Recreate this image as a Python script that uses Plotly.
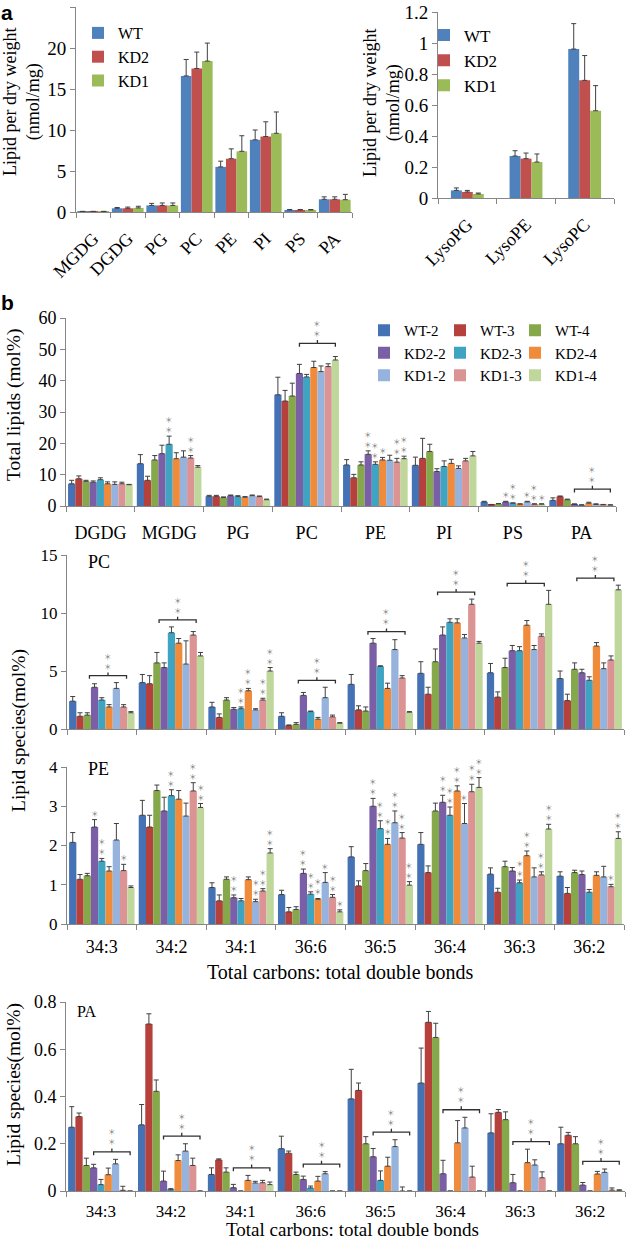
import plotly.graph_objects as go

# ---------------- data ----------------
a_lipids = ["MGDG", "DGDG", "PG", "PC", "PE", "PI", "PS", "PA"]
a_groups = ["WT", "KD2", "KD1"]
a_mean = [
    [0.05, 0.45, 0.8, 16.6, 5.5, 8.8, 0.25, 1.55],
    [0.05, 0.45, 0.8, 17.5, 6.5, 9.2, 0.25, 1.55],
    [0.05, 0.5, 0.8, 18.4, 7.4, 9.6, 0.25, 1.5],
]
a_err = [
    [0.03, 0.1, 0.25, 2.0, 0.7, 1.2, 0.05, 0.3],
    [0.03, 0.15, 0.3, 2.0, 1.2, 1.8, 0.05, 0.3],
    [0.03, 0.2, 0.3, 2.2, 1.9, 2.6, 0.05, 0.65],
]
lyso_lipids = ["LysoPG", "LysoPE", "LysoPC"]
lyso_mean = [[0.049, 0.271, 0.961], [0.039, 0.254, 0.759], [0.026, 0.232, 0.563]]
lyso_err = [[0.016, 0.034, 0.164], [0.010, 0.036, 0.160], [0.006, 0.052, 0.162]]

lines = ["WT-2", "WT-3", "WT-4", "KD2-2", "KD2-3", "KD2-4", "KD1-2", "KD1-3", "KD1-4"]
tot_classes = ["DGDG", "MGDG", "PG", "PC", "PE", "PI", "PS", "PA"]
tot_mean = [
    [7.1, 13.5, 3.1, 35.5, 13.1, 13.0, 1.3, 1.8],
    [8.7, 8.2, 3.1, 33.5, 9.0, 15.2, 0.4, 3.0],
    [7.9, 14.7, 2.7, 35.1, 13.1, 17.4, 0.7, 2.0],
    [7.6, 16.7, 3.3, 42.3, 16.5, 11.0, 1.3, 0.5],
    [8.4, 19.7, 3.0, 41.2, 13.3, 12.6, 0.9, 0.3],
    [7.1, 15.1, 2.8, 44.2, 14.7, 13.6, 0.6, 0.9],
    [6.9, 15.6, 3.3, 42.9, 14.6, 12.0, 1.3, 0.5],
    [7.1, 15.3, 3.0, 44.5, 14.0, 14.4, 0.6, 0.4],
    [6.8, 12.4, 2.0, 46.6, 15.1, 16.0, 0.6, 0.3],
]
tot_err = [
    [1.1, 2.9, 0.3, 5.6, 1.7, 2.6, 0.2, 0.8],
    [0.9, 1.3, 0.3, 3.4, 1.1, 6.4, 0.1, 0.2],
    [0.3, 1.4, 0.2, 4.1, 1.0, 2.3, 0.1, 0.2],
    [0.4, 2.7, 0.2, 2.9, 1.1, 0.9, 0.2, 0.2],
    [0.6, 2.6, 0.3, 0.8, 0.8, 1.8, 0.1, 0.1],
    [0.6, 1.9, 0.2, 2.0, 0.8, 1.3, 0.1, 0.3],
    [0.8, 2.0, 0.2, 1.8, 1.6, 0.8, 0.2, 0.2],
    [0.5, 0.8, 0.2, 0.9, 1.2, 0.8, 0.1, 0.1],
    [0.1, 0.5, 0.2, 1.1, 0.8, 1.4, 0.1, 0.1],
]
species = ["34:3", "34:2", "34:1", "36:6", "36:5", "36:4", "36:3", "36:2"]
pc_mean = [
    [2.4, 4.0, 1.9, 1.1, 3.85, 4.8, 4.85, 4.35],
    [1.1, 3.9, 1.0, 0.3, 1.65, 3.0, 2.75, 2.45],
    [1.2, 5.7, 2.5, 0.4, 1.55, 5.8, 5.3, 5.15],
    [3.6, 5.3, 1.7, 2.9, 7.4, 8.1, 6.75, 4.85],
    [2.5, 8.3, 1.75, 1.5, 5.4, 9.2, 6.75, 4.2],
    [1.9, 7.4, 3.3, 0.85, 3.5, 9.15, 8.95, 7.15],
    [3.5, 5.6, 1.65, 2.7, 6.85, 7.85, 6.85, 5.2],
    [1.9, 8.1, 2.5, 1.05, 4.4, 10.75, 8.0, 5.95],
    [1.4, 6.3, 5.0, 0.5, 1.45, 7.4, 10.75, 12.0],
]
pc_err = [
    [0.4, 0.7, 0.4, 0.3, 0.85, 1.0, 0.8, 0.65],
    [0.3, 0.7, 0.3, 0.05, 0.35, 0.6, 0.45, 0.55],
    [0.2, 0.9, 0.2, 0.15, 0.35, 1.1, 0.8, 0.55],
    [0.3, 0.4, 0.15, 0.25, 0.4, 0.7, 0.45, 0.3],
    [0.2, 0.5, 0.15, 0.05, 0.05, 0.3, 0.35, 0.3],
    [0.2, 0.4, 0.2, 0.15, 0.45, 0.35, 0.4, 0.3],
    [0.5, 2.0, 0.1, 0.9, 0.85, 0.3, 0.35, 0.5],
    [0.2, 0.3, 0.15, 0.15, 0.2, 0.45, 0.2, 0.35],
    [0.1, 0.3, 0.3, 0.05, 0.05, 0.15, 1.2, 0.4],
]
pe_mean = [
    [2.08, 2.77, 0.93, 0.75, 1.71, 2.03, 1.27, 1.22],
    [1.14, 2.47, 0.59, 0.31, 0.97, 1.31, 0.81, 0.78],
    [1.23, 3.40, 1.14, 0.37, 1.36, 2.88, 1.46, 1.31],
    [2.47, 2.88, 0.67, 1.29, 3.00, 3.10, 1.35, 1.26],
    [1.60, 3.27, 0.59, 0.76, 2.43, 2.77, 1.05, 0.81],
    [1.35, 3.18, 1.13, 0.63, 2.03, 3.39, 1.74, 1.24],
    [2.14, 2.75, 0.57, 1.06, 2.58, 2.56, 1.20, 1.20],
    [1.36, 3.39, 0.84, 0.68, 2.19, 3.37, 1.25, 0.95],
    [0.93, 2.97, 1.81, 0.31, 0.99, 3.48, 2.42, 2.18],
]
pe_err = [
    [0.25, 0.38, 0.12, 0.11, 0.26, 0.30, 0.16, 0.11],
    [0.12, 0.30, 0.15, 0.11, 0.13, 0.17, 0.10, 0.15],
    [0.06, 0.14, 0.06, 0.07, 0.18, 0.20, 0.14, 0.06],
    [0.19, 0.35, 0.07, 0.11, 0.20, 0.18, 0.09, 0.09],
    [0.07, 0.15, 0.06, 0.06, 0.20, 0.21, 0.07, 0.07],
    [0.11, 0.22, 0.07, 0.02, 0.15, 0.13, 0.12, 0.09],
    [0.42, 0.33, 0.06, 0.25, 0.30, 0.51, 0.23, 0.27],
    [0.16, 0.21, 0.06, 0.07, 0.14, 0.19, 0.08, 0.06],
    [0.04, 0.10, 0.11, 0.05, 0.09, 0.25, 0.12, 0.17],
]
pa_mean = [
    [0.270, 0.280, 0.070, 0.179, 0.390, 0.457, 0.246, 0.200],
    [0.315, 0.707, 0.132, 0.160, 0.426, 0.714, 0.333, 0.236],
    [0.108, 0.422, 0.080, 0.070, 0.200, 0.650, 0.302, 0.200],
    [0.098, 0.042, 0.014, 0.049, 0.145, 0.073, 0.035, 0.025],
    [0.027, 0.005, 0.0, 0.013, 0.045, 0.0, 0.0, 0.0],
    [0.069, 0.129, 0.045, 0.042, 0.105, 0.204, 0.120, 0.072],
    [0.115, 0.169, 0.034, 0.073, 0.188, 0.267, 0.110, 0.079],
    [0.003, 0.108, 0.035, 0.0, 0.0, 0.059, 0.056, 0.004],
    [0.0, 0.0, 0.027, 0.0, 0.0, 0.0, 0.0, 0.003],
]
pa_err = [
    [0.087, 0.086, 0.028, 0.053, 0.125, 0.148, 0.081, 0.070],
    [0.015, 0.043, 0.004, 0.009, 0.031, 0.046, 0.012, 0.012],
    [0.031, 0.048, 0.018, 0.010, 0.030, 0.060, 0.033, 0.030],
    [0.015, 0.042, 0.014, 0.014, 0.035, 0.057, 0.035, 0.011],
    [0.022, 0.005, 0.0, 0.008, 0.040, 0.0, 0.0, 0.0],
    [0.028, 0.024, 0.021, 0.020, 0.038, 0.094, 0.057, 0.011],
    [0.019, 0.031, 0.007, 0.009, 0.029, 0.045, 0.022, 0.014],
    [0.017, 0.031, 0.010, 0.0, 0.017, 0.046, 0.025, 0.009],
    [0.0, 0.0, 0.011, 0.0, 0.0, 0.0, 0.0, 0.002],
]
# significance marks: (category index, line index, number of asterisks)
tot_stars = [(1, 4, 2), (1, 7, 2), (4, 3, 2), (4, 4, 2), (4, 5, 1), (4, 7, 2), (4, 8, 2),
             (6, 3, 1), (6, 4, 2), (6, 6, 1), (6, 7, 2), (6, 8, 1)]
tot_brackets = [3, 7]
pc_stars = [(2, 4, 2), (2, 5, 2), (2, 7, 2), (2, 8, 2)]
pc_brackets = [0, 1, 3, 4, 5, 6, 7]
pe_stars = [(0, 3, 1), (0, 4, 2), (0, 7, 1),
            (1, 4, 2), (1, 7, 2), (1, 8, 2),
            (2, 3, 2), (2, 6, 2), (2, 7, 2), (2, 8, 2),
            (3, 3, 2), (3, 4, 2), (3, 5, 2), (3, 6, 1), (3, 7, 2), (3, 8, 1),
            (4, 3, 2), (4, 4, 2), (4, 5, 2), (4, 6, 2), (4, 7, 2), (4, 8, 2),
            (5, 3, 2), (5, 4, 2), (5, 5, 2), (5, 6, 1), (5, 7, 2), (5, 8, 2),
            (6, 4, 2), (6, 5, 2), (6, 7, 2), (6, 8, 2),
            (7, 7, 1), (7, 8, 2)]
pa_brackets = [0, 1, 2, 3, 4, 5, 6, 7]

# ---------------- style ----------------
W, H = 630, 1240
SERIF = "Liberation Serif, Times New Roman, serif"
SANS = "Liberation Sans, Arial, sans-serif"
STARFONT = "Noto Sans CJK JP"
AX = "#868686"
ERR = "#404040"
STAR = "#707070"
a_colors = ["#4F81BD", "#C0504D", "#9BBB59"]
b_colors = ["#4472b5", "#b5403c", "#84a84a", "#7a5ea6", "#3fa4c2",
            "#ef8b3a", "#95b3dc", "#db9493", "#c0d79c"]


def px(x):
    return x / W


def py(y):
    return 1 - y / H


fig = go.Figure()


def add_bars(cats, means, errs, names, colors, axn, fill, legends=None):
    n = len(means)
    w = fill / n
    xa = "x" if axn == 1 else "x%d" % axn
    ya = "y" if axn == 1 else "y%d" % axn
    for i in range(n):
        kw = {}
        if legends:
            kw["legend"] = legends[i]
            kw["showlegend"] = True
        else:
            kw["showlegend"] = False
        fig.add_trace(go.Bar(
            x=cats, y=means[i], name=names[i], width=w, offset=-fill / 2 + i * w,
            marker=dict(color=colors[i], line=dict(width=0)),
            error_y=dict(type="data", array=errs[i], arrayminus=[0] * len(cats),
                         symmetric=False, color=ERR, thickness=1, width=2.5),
            xaxis=xa, yaxis=ya, **kw))
    return w


FILL_A = 0.92
FILL_L = 0.56
FILL_B = 0.94
add_bars(a_lipids, a_mean, a_err, a_groups, a_colors, 1, FILL_A, ["legend"] * 3)
add_bars(lyso_lipids, lyso_mean, lyso_err, a_groups, a_colors, 2, FILL_L, ["legend2"] * 3)
add_bars(tot_classes, tot_mean, tot_err, lines, b_colors, 3, FILL_B,
         ["legend3", "legend4", "legend5"] * 3)
add_bars(species, pc_mean, pc_err, lines, b_colors, 4, FILL_B)
add_bars(species, pe_mean, pe_err, lines, b_colors, 5, FILL_B)
add_bars(species, pa_mean, pa_err, lines, b_colors, 6, FILL_B)

annotations = []
shapes = []


def bar_center(c, i, n=9, fill=FILL_B):
    w = fill / n
    return c - fill / 2 + (i + 0.5) * w


def star_text(axn, x, y, k):
    annotations.append(dict(
        x=x, y=y, xref="x%d" % axn, yref="y%d" % axn,
        text="<br>".join(["\uff0a"] * k), showarrow=False,
        yanchor="bottom", xanchor="center", borderpad=0, yshift=0,
        font=dict(family=STARFONT, size=7.5, color=STAR)))


def add_stars(axn, stars, means, errs):
    for (c, i, k) in stars:
        star_text(axn, bar_center(c, i), means[i][c] + errs[i][c], k)


def add_brackets(axn, cats, means, errs, lo, hi, ymax, pad_frac=0.04):
    d = ymax * 0.018
    for c in cats:
        tops = [means[i][c] + errs[i][c] for i in range(int(lo), min(9, int(hi + 0.999) + 1))]
        yb = max(tops) + ymax * pad_frac
        x0 = bar_center(c, lo)
        x1 = bar_center(c, hi)
        xc = (x0 + x1) / 2
        shapes.append(dict(
            type="path", xref="x%d" % axn, yref="y%d" % axn,
            path="M %f,%f L %f,%f L %f,%f L %f,%f M %f,%f L %f,%f" % (
                x0, yb - d, x0, yb, x1, yb, x1, yb - d, xc, yb, xc, yb + d),
            line=dict(color="#303030", width=1.3)))
        star_text(axn, xc, yb + d, 2)


add_stars(3, tot_stars, tot_mean, tot_err)
add_brackets(3, tot_brackets, tot_mean, tot_err, 3, 8, 60, 0.07)
add_stars(4, pc_stars, pc_mean, pc_err)
add_brackets(4, pc_brackets, pc_mean, pc_err, 2.3, 7.4, 15, 0.04)
add_stars(5, pe_stars, pe_mean, pe_err)
add_brackets(6, pa_brackets, pa_mean, pa_err, 3, 8, 0.8, 0.04)


def text(x, y, t, size, angle=0, family=SERIF, xanchor="center", yanchor="middle"):
    annotations.append(dict(x=px(x), y=py(y), xref="paper", yref="paper", text=t,
                            showarrow=False, textangle=angle, xanchor=xanchor, yanchor=yanchor,
                            borderpad=0,
                            font=dict(family=family, size=size, color="black")))


text(0, 0, "<b>a</b>", 21, family=SANS, xanchor="left", yanchor="top")
text(0, 290, "<b>b</b>", 21, family=SANS, xanchor="left", yanchor="top")
text(22, 102, "Lipid per dry weight<br>(nmol/mg)", 18, angle=-90)
text(382, 103, "Lipid per dry weight<br>(nmol/mg)", 18, angle=-90)
text(14, 405, "Total lipids (mol%)", 19.5, angle=-90)
text(19, 731, "Lipid species(mol%)", 19.5, angle=-90)
text(14, 1085, "Lipid species(mol%)", 19.5, angle=-90)
text(87, 562, "PC", 18, xanchor="left")
text(87, 769, "PE", 18, xanchor="left")
text(76, 1011, "PA", 16, xanchor="left")
text(340, 972, "Total carbons: total double bonds", 20)
text(352, 1229.5, "Total carbons: total double bonds", 19)


def yax(dom, rng, dtick, size, xa):
    return dict(domain=[py(dom[1]), py(dom[0])], range=rng, dtick=dtick, tick0=0,
                showline=True, linecolor=AX, linewidth=1, ticks="outside", ticklen=5,
                tickcolor=AX, showgrid=False, zeroline=False, anchor=xa, automargin=False,
                tickfont=dict(family=SERIF, size=size, color="black"))


def xax(dom, n, ya, size, show=True, angle=0, standoff=6):
    return dict(domain=[px(dom[0]), px(dom[1])], range=[-0.5, n - 0.5], type="category",
                showline=True, linecolor=AX, linewidth=1, ticks="outside", ticklen=5,
                tickcolor=AX, tickson="boundaries", showgrid=False, zeroline=False,
                anchor=ya, showticklabels=show, tickangle=angle, ticklabelstandoff=standoff,
                automargin=False,
                tickfont=dict(family=SERIF, size=size, color="black"))


def legend(x, y, size, gap=0):
    return dict(x=px(x), y=py(y), xanchor="left", yanchor="top", bgcolor="rgba(0,0,0,0)",
                font=dict(family=SERIF, size=size, color="black"), tracegroupgap=gap,
                itemclick=False)


fig.update_layout(
    width=W, height=H, margin=dict(l=0, r=0, t=0, b=0, pad=0, autoexpand=False),
    paper_bgcolor="white", plot_bgcolor="white",
    font=dict(family=SERIF, color="black"),
    barmode="overlay",
    xaxis=xax((76, 352), 8, "y", 18, angle=-45, standoff=8),
    yaxis=yax((7, 212), [0, 25], 5, 19, "x"),
    xaxis2=xax((438, 614), 3, "y2", 18, angle=-45, standoff=8),
    yaxis2=yax((12, 198), [0, 1.2], 0.2, 19, "x2"),
    xaxis3=xax((66, 616), 8, "y3", 18, standoff=10),
    yaxis3=yax((318, 506), [0, 60], 10, 18, "x3"),
    xaxis4=xax((67, 624), 8, "y4", 17, show=False),
    yaxis4=yax((555, 729), [0, 15], 5, 17, "x4"),
    xaxis5=xax((67, 624), 8, "y5", 18, standoff=6),
    yaxis5=yax((767, 924), [0, 4], 1, 17, "x5"),
    xaxis6=xax((66, 625), 8, "y6", 17, standoff=5),
    yaxis6=yax((1002, 1191), [0, 0.8], 0.2, 18, "x6"),
    legend=legend(78, 16, 16),
    legend2=legend(424, 17.5, 17),
    legend3=legend(364, 314, 15),
    legend4=legend(440, 314, 15),
    legend5=legend(515, 314, 15),
    annotations=annotations,
    shapes=shapes,
)

fig.write_html("out.html", config={"displayModeBar": False},
               post_script="document.body.style.margin='0px';")
